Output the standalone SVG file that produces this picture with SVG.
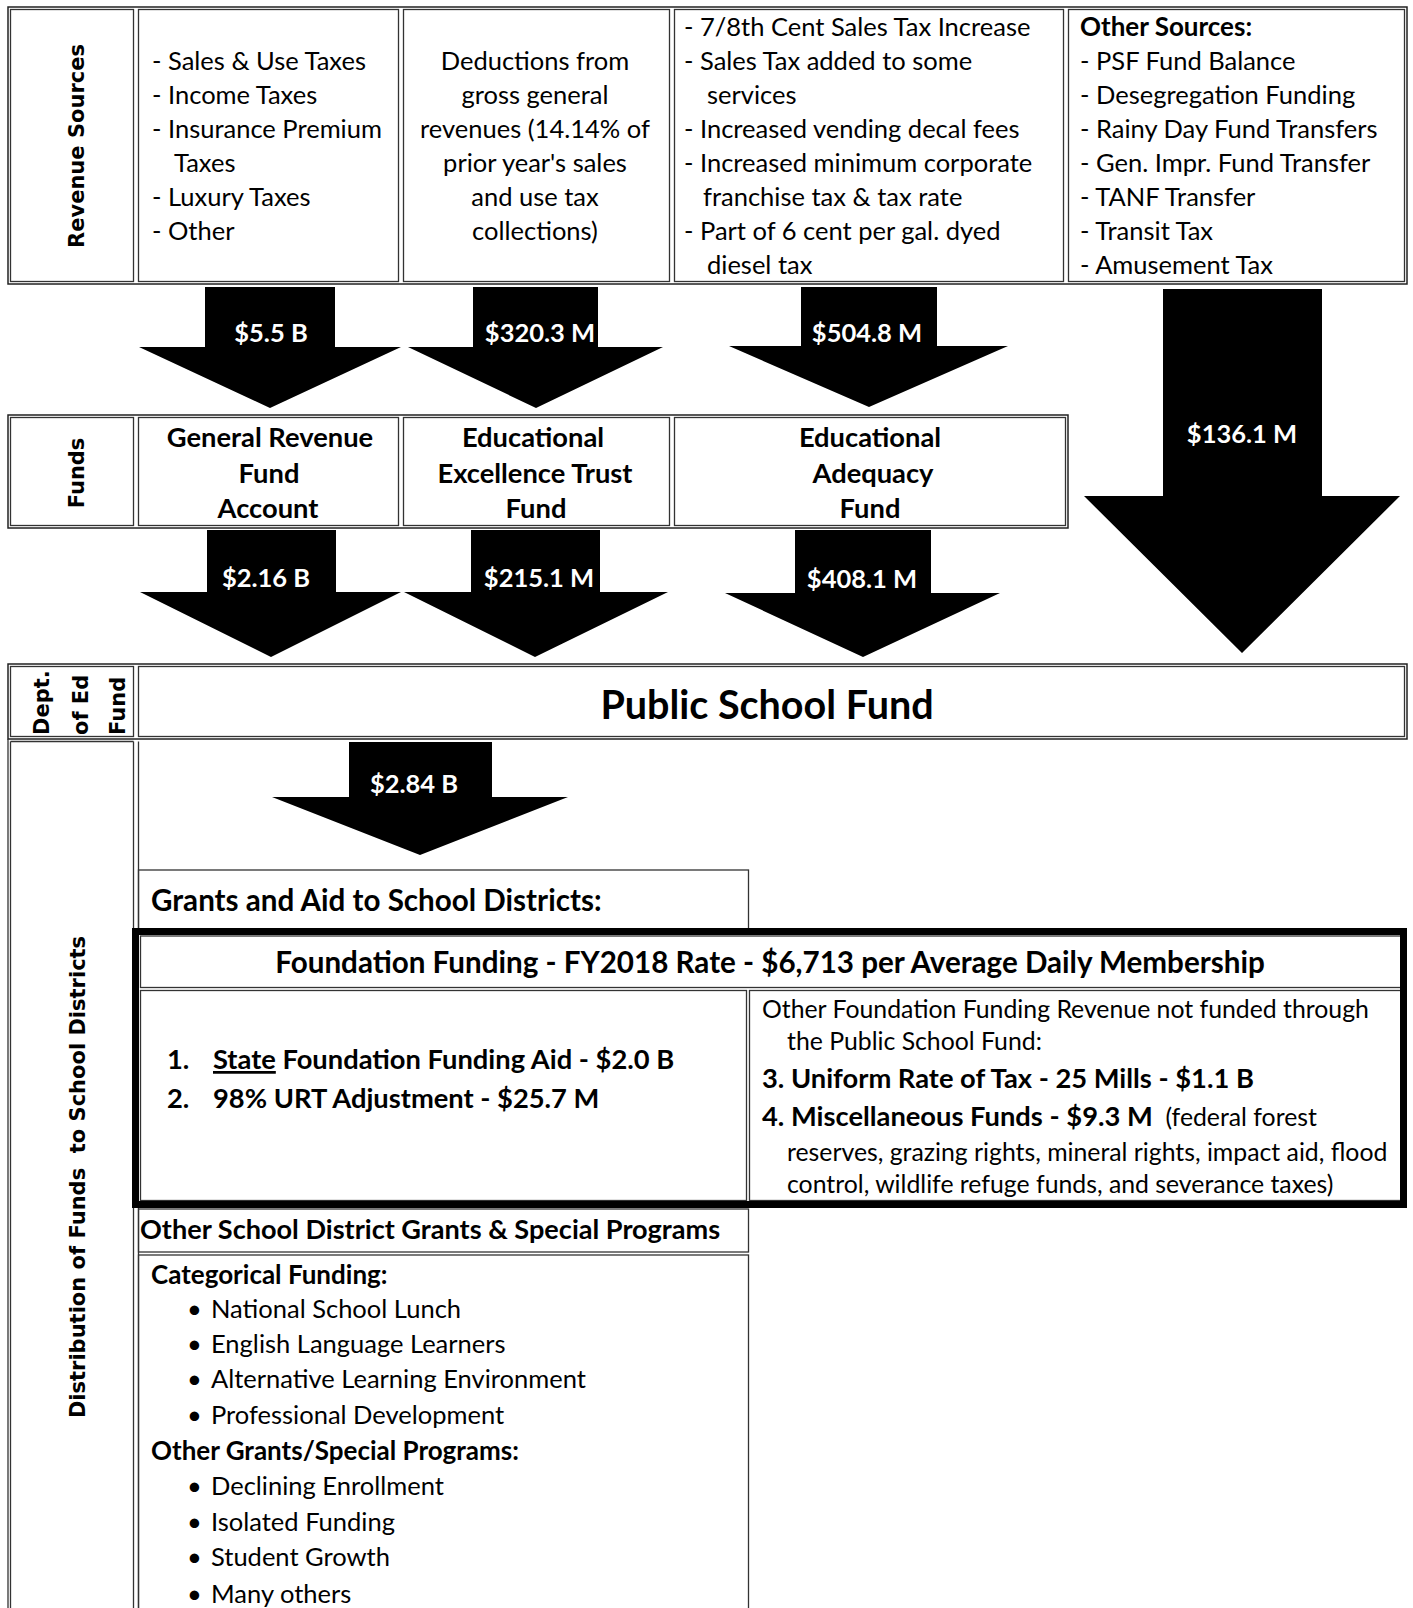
<svg xmlns="http://www.w3.org/2000/svg" width="1413" height="1608" viewBox="0 0 1413 1608">
<style>
.t{font-family:Lato,"Liberation Sans",sans-serif;font-size:25.5px;fill:#000}
.b{font-weight:bold;font-size:26px}
.b2{font-weight:bold;font-size:27.3px}
.b3{font-weight:bold;font-size:29.6px}
.s{font-size:24.8px}
.c{text-anchor:middle}
.lbl{font-family:"DejaVu Sans",Verdana,sans-serif;font-weight:bold;font-size:21px;fill:#000}
.al{font-family:Lato,"Liberation Sans",sans-serif;font-weight:bold;font-size:25.5px;fill:#fff;text-anchor:middle}
.outer{fill:none;stroke:#222;stroke-width:1.5}
.cell{fill:none;stroke:#333;stroke-width:1.3}
.ln{stroke:#333;stroke-width:1.3;fill:none}
.thick{fill:none;stroke:#000;stroke-width:7}
.arr{fill:#000}
</style>
<rect width="1413" height="1608" fill="#fff"/>

<!-- Revenue Sources table -->
<g id="revenue-sources">
  <rect class="outer" x="8" y="7" width="1399" height="277"/>
  <rect class="cell" x="10.5" y="9.5" width="123" height="272"/>
  <rect class="cell" x="138.5" y="9.5" width="260" height="272"/>
  <rect class="cell" x="403.5" y="9.5" width="266" height="272"/>
  <rect class="cell" x="674.5" y="9.5" width="389" height="272"/>
  <rect class="cell" x="1068.5" y="9.5" width="336" height="272"/>
  <text class="lbl" transform="translate(84,146) rotate(-90)" text-anchor="middle">Revenue Sources</text>
</g>
<g id="src-general" class="t">
  <text x="152" y="70">- Sales &amp; Use Taxes</text>
  <text x="152" y="104">- Income Taxes</text>
  <text x="152" y="138">- Insurance Premium</text>
  <text x="174" y="172">Taxes</text>
  <text x="152" y="206">- Luxury Taxes</text>
  <text x="152" y="240">- Other</text>
</g>
<g id="src-deductions" class="t c">
  <text x="535" y="70">Deductions from</text>
  <text x="535" y="104">gross general</text>
  <text x="535" y="138">revenues (14.14% of</text>
  <text x="535" y="172">prior year's sales</text>
  <text x="535" y="206">and use tax</text>
  <text x="535" y="240">collections)</text>
</g>
<g id="src-adequacy" class="t">
  <text x="684" y="36">- 7/8th Cent Sales Tax Increase</text>
  <text x="684" y="70">- Sales Tax added to some</text>
  <text x="707" y="104">services</text>
  <text x="684" y="138">- Increased vending decal fees</text>
  <text x="684" y="172">- Increased minimum corporate</text>
  <text x="703" y="206">franchise tax &amp; tax rate</text>
  <text x="684" y="240">- Part of 6 cent per gal. dyed</text>
  <text x="707" y="274">diesel tax</text>
</g>
<g id="src-other" class="t">
  <text x="1080" y="36" class="b">Other Sources:</text>
  <text x="1080" y="70">- PSF Fund Balance</text>
  <text x="1080" y="104">- Desegregation Funding</text>
  <text x="1080" y="138">- Rainy Day Fund Transfers</text>
  <text x="1080" y="172">- Gen. Impr. Fund Transfer</text>
  <text x="1080" y="206">- TANF Transfer</text>
  <text x="1080" y="240">- Transit Tax</text>
  <text x="1080" y="274">- Amusement Tax</text>
</g>

<!-- Funds table -->
<g id="funds">
  <rect class="outer" x="8" y="415" width="1060" height="113"/>
  <rect class="cell" x="10.5" y="417.5" width="123" height="108"/>
  <rect class="cell" x="138.5" y="417.5" width="260" height="108"/>
  <rect class="cell" x="403.5" y="417.5" width="266" height="108"/>
  <rect class="cell" x="674.5" y="417.5" width="391" height="108"/>
  <text class="lbl" transform="translate(84,473) rotate(-90)" text-anchor="middle">Funds</text>
</g>
<g id="fund-general" class="t b2 c">
  <text x="270" y="447">General Revenue</text>
  <text x="269" y="483">Fund</text>
  <text x="268" y="518">Account</text>
</g>
<g id="fund-excellence" class="t b2 c">
  <text x="533" y="447">Educational</text>
  <text x="535" y="483">Excellence Trust</text>
  <text x="536" y="518">Fund</text>
</g>
<g id="fund-adequacy" class="t b2 c">
  <text x="870" y="447">Educational</text>
  <text x="873" y="483">Adequacy</text>
  <text x="870" y="518">Fund</text>
</g>

<!-- Public School Fund -->
<g id="public-school-fund">
  <rect class="outer" x="8" y="664" width="1399" height="75"/>
  <rect class="cell" x="10.5" y="666.5" width="123" height="70"/>
  <rect class="cell" x="138.5" y="666.5" width="1266" height="70"/>
  <g class="lbl">
    <text transform="translate(49,735) rotate(-90)">Dept.</text>
    <text transform="translate(88,735) rotate(-90)">of Ed</text>
    <text transform="translate(125,735) rotate(-90)">Fund</text>
  </g>
  <text class="t" x="767" y="719" text-anchor="middle" style="font-weight:bold;font-size:39.5px">Public School Fund</text>
</g>

<!-- Distribution section frame -->
<g id="distribution">
  <path class="ln" d="M8,739 V1608 M10.5,741.5 V1608 M133.5,741.5 V1608 M10.5,741.5 H133.5 M138.5,741.5 V1608"/>
  <text class="lbl" xml:space="preserve" transform="translate(85,1177) rotate(-90)" text-anchor="middle">Distribution of Funds  to School Districts</text>
</g>

<g id="grants-aid">
  <rect class="cell" x="138.5" y="870" width="610" height="60"/>
  <text class="t b3" x="151" y="911">Grants and Aid to School Districts:</text>
</g>

<g id="foundation">
  <rect fill="#fff" x="135.5" y="931.5" width="1268" height="273"/>
  <rect class="cell" x="140.5" y="936" width="1262" height="51.5"/>
  <rect class="cell" x="140.5" y="990.5" width="606" height="210"/>
  <rect class="cell" x="749.5" y="990.5" width="653" height="210"/>
  <rect class="thick" x="135.5" y="931.5" width="1268" height="273"/>
  <text class="t b3" x="770" y="973" text-anchor="middle">Foundation Funding - FY2018 Rate - $6,713 per Average Daily Membership</text>
  <text class="t b2" x="167" y="1069">1.</text>
  <text class="t b2" x="213" y="1069"><tspan text-decoration="underline">State</tspan> Foundation Funding Aid - $2.0 B</text>
  <text class="t b2" x="167" y="1108">2.</text>
  <text class="t b2" x="213" y="1108">98% URT Adjustment - $25.7 M</text>
  <text class="t s" x="762" y="1018">Other Foundation Funding Revenue not funded through</text>
  <text class="t s" x="787" y="1050">the Public School Fund:</text>
  <text class="t b2" x="762" y="1088">3. Uniform Rate of Tax - 25 Mills - $1.1 B</text>
  <text class="t s" x="762" y="1126" xml:space="preserve"><tspan class="b2">4. Miscellaneous Funds - $9.3 M</tspan>  (federal forest</text>
  <text class="t s" x="787" y="1161">reserves, grazing rights, mineral rights, impact aid, flood</text>
  <text class="t s" x="787" y="1193">control, wildlife refuge funds, and severance taxes)</text>
</g>

<g id="other-grants-header">
  <rect class="cell" x="138.5" y="1209" width="610" height="43"/>
  <text class="t" x="140" y="1239" style="font-weight:bold;font-size:27.1px">Other School District Grants &amp; Special Programs</text>
</g>

<g id="other-grants-list">
  <rect class="cell" x="138.5" y="1255" width="610" height="380"/>
  <text class="t b" x="151" y="1284">Categorical Funding:</text>
  <g class="t">
    <text x="187" y="1318">•</text><text x="211" y="1318">National School Lunch</text>
    <text x="187" y="1353">•</text><text x="211" y="1353">English Language Learners</text>
    <text x="187" y="1388">•</text><text x="211" y="1388">Alternative Learning Environment</text>
    <text x="187" y="1424">•</text><text x="211" y="1424">Professional Development</text>
  </g>
  <text class="t b" x="151" y="1460">Other Grants/Special Programs:</text>
  <g class="t">
    <text x="187" y="1495">•</text><text x="211" y="1495">Declining Enrollment</text>
    <text x="187" y="1531">•</text><text x="211" y="1531">Isolated Funding</text>
    <text x="187" y="1566">•</text><text x="211" y="1566">Student Growth</text>
    <text x="187" y="1603">•</text><text x="211" y="1603">Many others</text>
  </g>
</g>

<!-- Connectors: block arrows -->
<g id="connectors">
  <g id="arrow-general">
    <polygon class="arr" points="205,287 335,287 335,347 401,347 270,408 139,347 205,347"/>
    <text class="al" x="271" y="342">$5.5 B</text>
  </g>
  <g id="arrow-deductions">
    <polygon class="arr" points="473,287 598,287 598,347 663,347 536,408 408,347 473,347"/>
    <text class="al" x="540" y="342">$320.3 M</text>
  </g>
  <g id="arrow-adequacy">
    <polygon class="arr" points="801,287 937,287 937,346 1008,346 869,407 729,346 801,346"/>
    <text class="al" x="867" y="342">$504.8 M</text>
  </g>
  <g id="arrow-other">
    <polygon class="arr" points="1163,289 1322,289 1322,496 1400,496 1242,653 1084,496 1163,496"/>
    <text class="al" x="1242" y="443">$136.1 M</text>
  </g>
  <g id="arrow-grf-psf">
    <polygon class="arr" points="207,530 336,530 336,592 401,592 271,657 140,592 207,592"/>
    <text class="al" x="266" y="587">$2.16 B</text>
  </g>
  <g id="arrow-eetf-psf">
    <polygon class="arr" points="471,530 600,530 600,592 668,592 535,657 404,592 471,592"/>
    <text class="al" x="539" y="587">$215.1 M</text>
  </g>
  <g id="arrow-eaf-psf">
    <polygon class="arr" points="795,530 931,530 931,593 1000,593 863,657 725,593 795,593"/>
    <text class="al" x="862" y="588">$408.1 M</text>
  </g>
  <g id="arrow-psf-grants">
    <polygon class="arr" points="349,742 492,742 492,797 568,797 420,855 272,797 349,797"/>
    <text class="al" x="414" y="793">$2.84 B</text>
  </g>
</g>
</svg>
